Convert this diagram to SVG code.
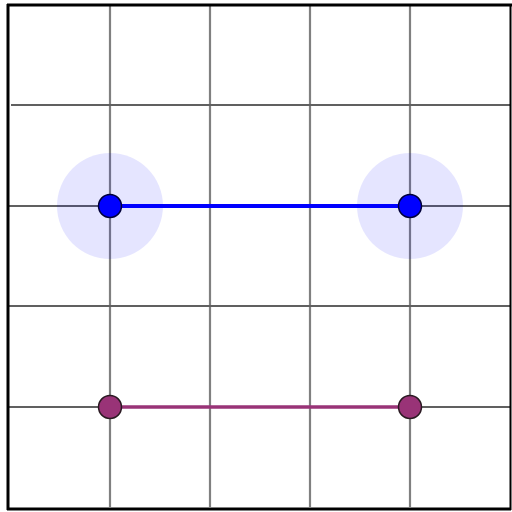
<svg xmlns="http://www.w3.org/2000/svg" width="512" height="512" viewBox="0 0 512 512">
<style>
.v{stroke:#808080;stroke-width:2.2;fill:none}
.h{stroke:#606060;stroke-width:1.8;fill:none}
.halo{fill:#0000ff;fill-opacity:0.1}
.bdot{fill:#0000ff;stroke:#00003a;stroke-width:1.5}
.pdot{fill:#993377;stroke:#2a1a22;stroke-width:1.5}
</style>
<rect x="0" y="0" width="512" height="512" fill="#ffffff"/>
<g id="grid">
<line class="v" x1="110" y1="6" x2="110" y2="507"/>
<line class="v" x1="210" y1="6" x2="210" y2="507"/>
<line class="v" x1="310" y1="6" x2="310" y2="507"/>
<line class="v" x1="410" y1="6" x2="410" y2="507"/>
<line class="h" x1="11" y1="105" x2="510" y2="105" stroke="#808080"/>
<line class="h" x1="9" y1="206" x2="510" y2="206" stroke="#202020" stroke-width="1.5"/>
<line class="h" x1="9" y1="306" x2="510" y2="306" stroke="#404040"/>
<line class="h" x1="9" y1="407" x2="510" y2="407" stroke="#808080"/>
</g>
<g id="halos">
<circle class="halo" cx="110" cy="206" r="53"/>
<circle class="halo" cx="410" cy="206" r="53"/>
</g>
<g id="connectors">
<line x1="110" y1="206" x2="410" y2="206" stroke="#0000ff" stroke-width="4"/>
<line x1="110" y1="407" x2="410" y2="407" stroke="#993377" stroke-width="3.5"/>
</g>
<g id="node-b1"><circle class="bdot" cx="110" cy="206" r="11.5"/></g>
<g id="node-b2"><circle class="bdot" cx="410" cy="206" r="11.5"/></g>
<g id="node-p1"><circle class="pdot" cx="110" cy="407" r="11.5"/></g>
<g id="node-p2"><circle class="pdot" cx="410" cy="407" r="11.5"/></g>
<g id="frame">
<line x1="8" y1="4" x2="8" y2="510" stroke="#000" stroke-width="3"/>
<line x1="7" y1="5" x2="512" y2="5" stroke="#000" stroke-width="3"/>
<line x1="510.5" y1="4" x2="510.5" y2="510" stroke="#000" stroke-width="2"/>
<line x1="7" y1="509" x2="511" y2="509" stroke="#000" stroke-width="3"/>
</g>
</svg>
